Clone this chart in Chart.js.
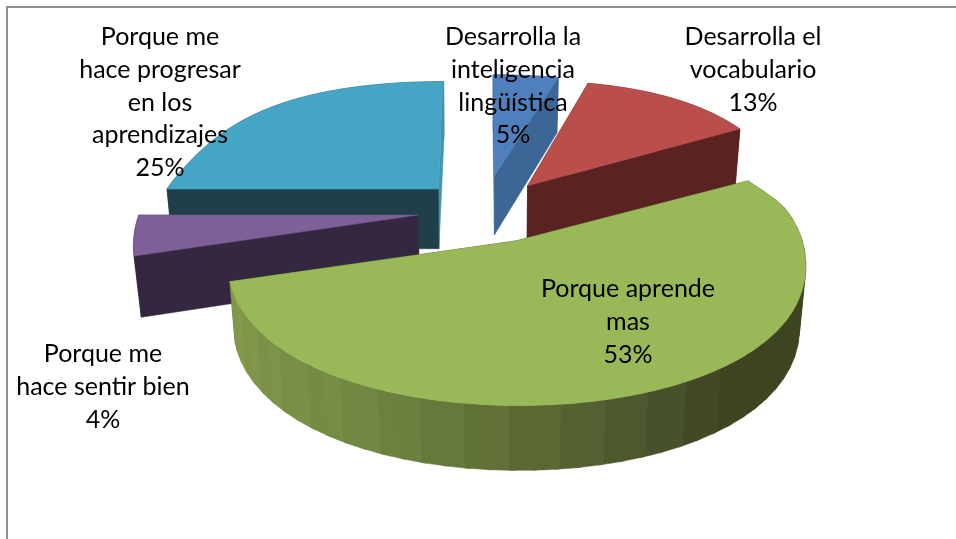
<!DOCTYPE html>
<html>
<head>
<meta charset="utf-8">
<style>html,body{margin:0;padding:0;background:#fff}canvas{display:block}</style>
<script src="https://cdn.jsdelivr.net/npm/chart.js@4"></script>
</head>
<body>
<canvas id="c" width="956" height="539"></canvas>
<script>
const categories = ["Desarrolla la inteligencia lingüística","Desarrolla el vocabulario","Porque aprende mas","Porque me hace sentir bien","Porque me hace progresar en los aprendizajes"];
const values = [5,13,53,4,25];
const labelLines = [
  ["Desarrolla la","inteligencia","lingüística"],
  ["Desarrolla el","vocabulario"],
  ["Porque aprende","mas"],
  ["Porque me","hace sentir bien"],
  ["Porque me","hace progresar","en los","aprendizajes"]
];
const topColors = ["#4f80bd","#b94e4b","#99b958","#7e5f98","#46a4c4"];
const wallColors = ["#3c6695","#5a2322","#3d4520","#33283f","#1f404a"];
const endWallColors = ["#3c6695","#5a2322","#3d4520","#33283f","#4494ac"];
const sliceOffsets = [180,164,240,336,140];
const sliceNudges = [[-9,-8],[5,-5],[-1,0],[2,1],[-35,-5]];
const rimDrops = [0,0,8,0,0];
const paintOrder = [0,1,4,3,2];
const labelCenters = [[513,37],[753,37],[628,289],[103,354],[160,37]];
const greenStops = [[90,"#3d4520"],[140,"#3d4520"],[155,"#47512a"],[180,"#5c6b33"],[210,"#708841"],[256,"#86994c"]];

const CX = 497, CY = 208;
function hex(c){return [1,3,5].map(i=>parseInt(c.substr(i,2),16));}
function stopColor(deg,lift){
  if(deg<=greenStops[0][0])return greenStops[0][1];
  let a=greenStops[greenStops.length-2],b=greenStops[greenStops.length-1];
  for(let i=0;i<greenStops.length-1;i++){
    if(deg>=greenStops[i][0]&&deg<=greenStops[i+1][0]){a=greenStops[i];b=greenStops[i+1];break;}
  }
  const t=(deg-a[0])/Math.max(b[0]-a[0],1),A=hex(a[1]),B=hex(b[1]);
  return "rgb("+A.map((v,i)=>Math.round(v+(B[i]-v)*t)+(deg>140?lift:0)).join(",")+")";
}
const pieDepth = {
  id:"pieDepth",
  beforeDatasetsDraw(chart){
    const ctx=chart.ctx, arcs=chart.getDatasetMeta(0).data;
    const project=(X,Y,R,i,low)=>{
      const n=sliceNudges[i];
      const u=Y/R;
      const s=0.97+0.15*u-(u<0?0.07*u*u/(u*u+0.06):0);
      const ramp=Math.max(0,Math.min(1,(0.25-u)/0.5));
      const g=(u<0?165*u+49*u*u:165*u)+rimDrops[i]*ramp*ramp*(3-2*ramp);
      return low?[CX+n[0]+X*s*0.98,CY+n[1]+g+60+4*u]:[CX+n[0]+X*s,CY+n[1]+g];
    };
    const poly=(pts,col)=>{
      ctx.beginPath();pts.forEach((p,i)=>i?ctx.lineTo(p[0],p[1]):ctx.moveTo(p[0],p[1]));
      ctx.closePath();ctx.fillStyle=col;ctx.strokeStyle=col;ctx.lineWidth=0.5;ctx.fill();ctx.stroke();
    };
    paintOrder.forEach(i=>{
      const el=arcs[i];
      const {startAngle,endAngle,outerRadius:R}=el.getProps(["startAngle","endAngle","outerRadius"],true);
      const off=el.options.offset/4, mid=(startAngle+endAngle)/2;
      const ox=Math.cos(mid)*off, oy=Math.sin(mid)*off;
      const pt=a=>[ox+R*Math.cos(a),oy+R*Math.sin(a)];
      const n=Math.max(3,Math.round((endAngle-startAngle)/(Math.PI/180)));
      const rim=[];for(let k=0;k<=n;k++)rim.push(startAngle+(endAngle-startAngle)*k/n);
      const wall=(list,col)=>{
        const up=list.map(p=>project(p[0],p[1],R,i));
        const lo=list.map(p=>project(p[0],p[1],R,i,1)).reverse();
        return {y:list.reduce((a,p)=>a+p[1],0)/list.length,pts:up.concat(lo),col};
      };
      const walls=[wall([[ox,oy],pt(startAngle)],wallColors[i]),wall([[ox,oy],pt(endAngle)],endWallColors[i])];
      if(i===2){
        for(let k=0,b=0;k<n;k+=4,b++){
          const part=rim.slice(k,Math.min(k+6,n+1));
          const deg=((rim[k]+Math.PI/2)*180/Math.PI)+2;
          walls.push(wall(part.map(pt),stopColor(deg,b%2?3:0)));
        }
      } else {
        walls.push(wall(rim.map(pt),wallColors[i]));
      }
      walls.sort((a,b)=>a.y-b.y).forEach(w=>poly(w.pts,w.col));
      const top=[project(ox,oy,R,i)];
      rim.forEach(a=>{const p=pt(a);top.push(project(p[0],p[1],R,i));});
      poly(top,topColors[i]);
    });
    return false;
  },
  beforeDraw(chart){
    const ctx=chart.ctx;
    ctx.save();ctx.fillStyle="#fff";ctx.fillRect(0,0,956,539);
    ctx.strokeStyle="#8e8e8e";ctx.lineWidth=2;ctx.beginPath();
    ctx.moveTo(7,539);ctx.lineTo(7,7);ctx.lineTo(956,7);ctx.stroke();ctx.restore();
  },
  afterDraw(chart){
    const ctx=chart.ctx;
    ctx.save();ctx.font='25px Lato';ctx.fillStyle="#000";ctx.textAlign="center";ctx.textBaseline="middle";
    labelLines.forEach((lines,i)=>{
      const all=lines.concat([values[i]+"%"]);
      all.forEach((t,k)=>ctx.fillText(t,labelCenters[i][0],labelCenters[i][1]+k*32.8));
    });
    ctx.restore();
  }
};
new Chart(document.getElementById("c"),{
  type:"pie",
  data:{labels:categories,datasets:[{data:values,backgroundColor:topColors,offset:sliceOffsets,borderWidth:0,hoverOffset:0,radius:286}]},
  options:{responsive:false,animation:false,events:[],plugins:{legend:{display:false},tooltip:{enabled:false}}},
  plugins:[pieDepth]
});
</script>
</body>
</html>
